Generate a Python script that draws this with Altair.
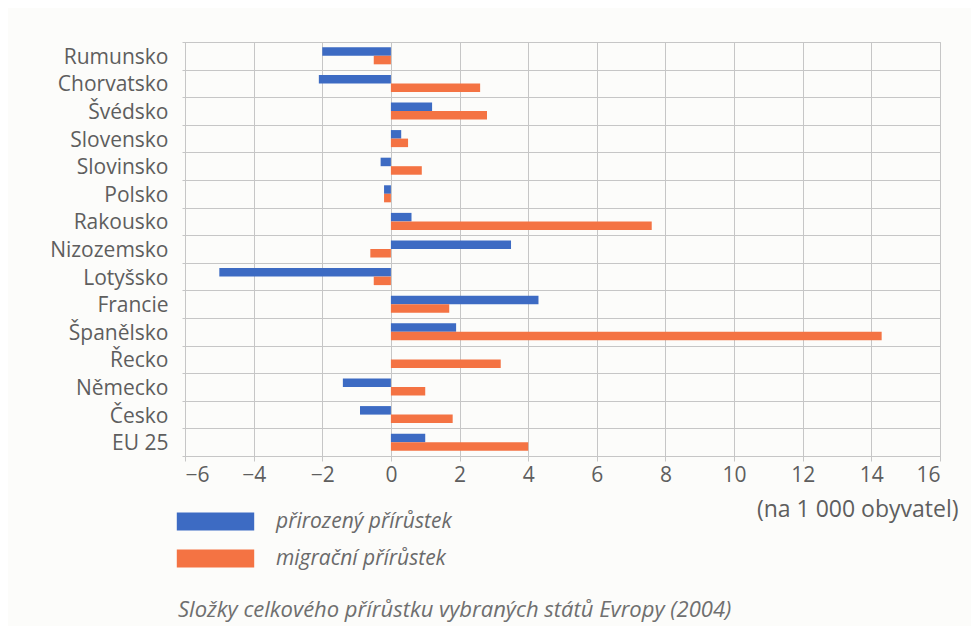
import altair as alt
import pandas as pd

countries = ["Rumunsko", "Chorvatsko", "Švédsko", "Slovensko", "Slovinsko", "Polsko",
             "Rakousko", "Nizozemsko", "Lotyšsko", "Francie", "Španělsko", "Řecko",
             "Německo", "Česko", "EU 25"]
natural = [-2.0, -2.1, 1.2, 0.3, -0.3, -0.2, 0.6, 3.5, -5.0, 4.3, 1.9, 0.0, -1.4, -0.9, 1.0]
migration = [-0.5, 2.6, 2.8, 0.5, 0.9, -0.2, 7.6, -0.6, -0.5, 1.7, 14.3, 3.2, 1.0, 1.8, 4.0]
series = ["přirozený přírůstek", "migrační přírůstek"]
colors = ["#3d6bc3", "#f47343"]
x_ticks = list(range(-6, 17, 2))
unit_label = "(na 1 000 obyvatel)"
caption = "Složky celkového přírůstku vybraných států Evropy (2004)"

rows = []
for c, n, m in zip(countries, natural, migration):
    rows.append({"country": c, "series": series[0], "value": n})
    rows.append({"country": c, "series": series[1], "value": m})
df = pd.DataFrame(rows)

FONT = "Open Sans"
GRID = "#c6c6c6"
TXT = "#5e5e5e"

bars = alt.Chart(df).mark_bar().encode(
    y=alt.Y("country:N", sort=countries,
            scale=alt.Scale(paddingInner=0, paddingOuter=0),
            axis=alt.Axis(title=None, tickBand="extent", grid=True, gridColor=GRID,
                          domainColor=GRID, tickColor=GRID, tickSize=3,
                          labelPadding=14, labelOffset=1.5, labelFont=FONT,
                          labelFontSize=21, labelColor=TXT)),
    yOffset=alt.YOffset("series:N", sort=series,
                        scale=alt.Scale(domain=series, paddingOuter=0.62, paddingInner=0)),
    x=alt.X("value:Q", scale=alt.Scale(domain=[-6, 16], nice=False),
            axis=alt.Axis(values=x_ticks, title=unit_label, grid=True, gridColor=GRID,
                          domainColor=GRID, tickColor=GRID, tickSize=5,
                          labelPadding=3, labelFont=FONT, labelFontSize=21,
                          labelColor=TXT, titleX=773, titleY=60, titleAlign="right",
                          titleBaseline="alphabetic", titleFont=FONT, titleFontSize=23,
                          titleFontWeight="normal", titleColor=TXT)),
    color=alt.Color("series:N",
                    scale=alt.Scale(domain=series, range=colors),
                    legend=alt.Legend(title=None, orient="none", legendX=20, legendY=469,
                                      symbolType="M-4.3,-1H4.3V1H-4.3Z", symbolSize=324,
                                      symbolStrokeWidth=0, symbolOpacity=1,
                                      labelFont=FONT, labelFontStyle="italic",
                                      labelFontSize=21, labelColor="#6a6a6a",
                                      labelLimit=400, labelOffset=50, rowPadding=15,
                                      padding=0)),
)

cap = alt.Chart(pd.DataFrame({"t": [caption]})).mark_text(
    align="left", baseline="alphabetic", font=FONT, fontSize=22, fontStyle="italic",
    color="#6f6f6f"
).encode(x=alt.value(-7), y=alt.value(575), text="t:N")

chart = alt.layer(bars, cap).properties(
    width=755, height=414,
    padding={"left": 177, "top": 34, "right": 31, "bottom": 170},
    autosize=alt.AutoSizeParams(type="none"),
    background="#fcfcfa",
).configure_view(stroke=GRID, fill="#fcfcfa")

chart.save("out.html", embed_options={"renderer": "svg", "actions": False})
